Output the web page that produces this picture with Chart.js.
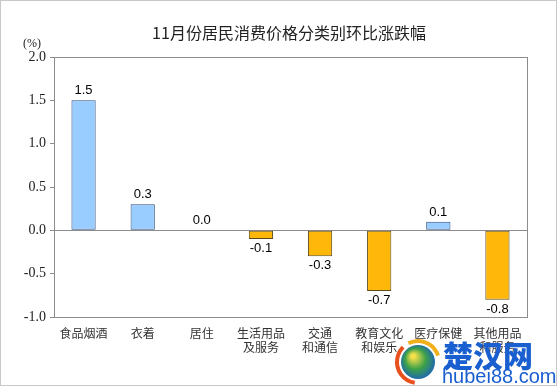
<!DOCTYPE html>
<html>
<head>
<meta charset="utf-8">
<script src="https://cdn.jsdelivr.net/npm/chart.js@4.4.0/dist/chart.umd.min.js"></script>
<style>
  html, body { margin: 0; padding: 0; background: #fff; }
  #wrap { width: 557px; height: 386px; position: relative; }
</style>
</head>
<body>
<div id="wrap"><canvas id="cpiChart" width="557" height="386"></canvas></div>
<script>
// chart data
const categories = [
  "食品烟酒", "衣着", "居住", ["生活用品", "及服务"],
  ["交通", "和通信"], ["教育文化", "和娱乐"], "医疗保健", ["其他用品", "和服务"]
];
const changes = [1.5, 0.3, 0.0, -0.1, -0.3, -0.7, 0.1, -0.8];
const yTicks = [-1.0, -0.5, 0.0, 0.5, 1.0, 1.5, 2.0];
const title = "11月份居民消费价格分类别环比涨跌幅";
const unit = "(%)";

const upFill = "#99ccff", upEdge = "#2e4f80";
const downFill = "#ffb80a", downEdge = "#5b4a1c";

// frame, title, value labels and the site watermark
const decorations = {
  id: "decorations",
  beforeDraw(chart) {
    const { ctx, width, height } = chart;
    ctx.save();
    ctx.fillStyle = "#fff";
    ctx.fillRect(0, 0, width, height);
    ctx.strokeStyle = "#c8c8c8";
    ctx.lineWidth = 1;
    ctx.strokeRect(0.5, 0.5, width - 1, height - 1);
    ctx.restore();
  },
  afterDraw(chart) {
    const { ctx, chartArea } = chart;
    ctx.save();
    ctx.strokeStyle = "#8c8c8c";
    ctx.lineWidth = 1;
    ctx.strokeRect(chartArea.left + 0.5, chartArea.top + 0.5,
      chartArea.right - chartArea.left, chartArea.bottom - chartArea.top);

    ctx.fillStyle = "#222";
    ctx.font = "16px 'Noto Sans CJK SC'";
    ctx.textAlign = "center";
    ctx.textBaseline = "middle";
    ctx.fillText(title, 289, 33);

    ctx.font = "12px 'Liberation Serif'";
    ctx.fillText(unit, 32, 44);

    ctx.font = "13px 'Liberation Sans'";
    ctx.fillStyle = "#000";
    const meta = chart.getDatasetMeta(0);
    meta.data.forEach((bar, i) => {
      const v = changes[i];
      const txt = v.toFixed(1);
      if (v >= 0) {
        ctx.textBaseline = "bottom";
        ctx.fillText(txt, bar.x, bar.y - 3);
      } else {
        ctx.textBaseline = "top";
        ctx.fillText(txt, bar.x, bar.y + 3);
      }
    });

    // watermark
    const gx = 418, gy = 362;
    const g = ctx.createRadialGradient(gx - 5, gy - 6, 2, gx, gy, 19);
    g.addColorStop(0, "#f4e04a");
    g.addColorStop(0.5, "#3aa04a");
    g.addColorStop(1, "#1c5fc0");
    ctx.fillStyle = g;
    ctx.beginPath();
    ctx.arc(gx, gy, 17, 0, Math.PI * 2);
    ctx.fill();
    ctx.lineWidth = 4;
    ctx.strokeStyle = "#e8501e";
    ctx.beginPath();
    ctx.arc(gx, gy, 21, Math.PI * 0.55, Math.PI * 1.25);
    ctx.stroke();
    ctx.strokeStyle = "#f2b01c";
    ctx.beginPath();
    ctx.arc(gx, gy, 21, Math.PI * 1.35, Math.PI * 1.9);
    ctx.stroke();

    ctx.textAlign = "left";
    ctx.textBaseline = "alphabetic";
    ctx.fillStyle = "#1a5fd0";
    ctx.font = "900 30px 'Noto Sans CJK SC'";
    ctx.fillText("楚汉网", 443, 367);
    ctx.font = "20px 'Liberation Sans'";
    ctx.fillText("hubei88.com", 442, 383);
    ctx.restore();
  }
};

new Chart(document.getElementById("cpiChart").getContext("2d"), {
  type: "bar",
  data: {
    labels: categories,
    datasets: [{
      data: changes,
      backgroundColor: changes.map(v => v >= 0 ? upFill : downFill),
      borderColor: changes.map(v => v >= 0 ? upEdge : downEdge),
      borderWidth: 1,
      borderSkipped: false,
      categoryPercentage: 1,
      barPercentage: 0.41
    }]
  },
  options: {
    responsive: false,
    animation: false,
    layout: { padding: { top: 57, right: 30, left: 0, bottom: 0 } },
    plugins: { legend: { display: false }, tooltip: { enabled: false } },
    scales: {
      x: {
        grid: { display: false },
        border: { display: false },
        ticks: {
          color: "#333",
          font: { family: "'Noto Sans CJK SC'", size: 12, lineHeight: 1.2 },
          padding: 1,
          maxRotation: 0,
          autoSkip: false
        },
        afterFit(scale) { scale.height = 69; }
      },
      y: {
        min: yTicks[0],
        max: yTicks[yTicks.length - 1],
        afterBuildTicks(scale) { scale.ticks = yTicks.map(v => ({ value: v })); },
        grid: {
          color: c => c.tick && c.tick.value === 0 ? "#8c8c8c" : "rgba(0,0,0,0)",
          tickColor: "#8c8c8c",
          tickLength: 4
        },
        border: { display: false },
        ticks: {
          color: "#222",
          font: { family: "'Liberation Serif', serif", size: 14 },
          padding: 4,
          callback: v => v.toFixed(1)
        },
        afterFit(scale) { scale.width = 54; }
      }
    }
  },
  plugins: [decorations]
});
</script>
</body>
</html>
